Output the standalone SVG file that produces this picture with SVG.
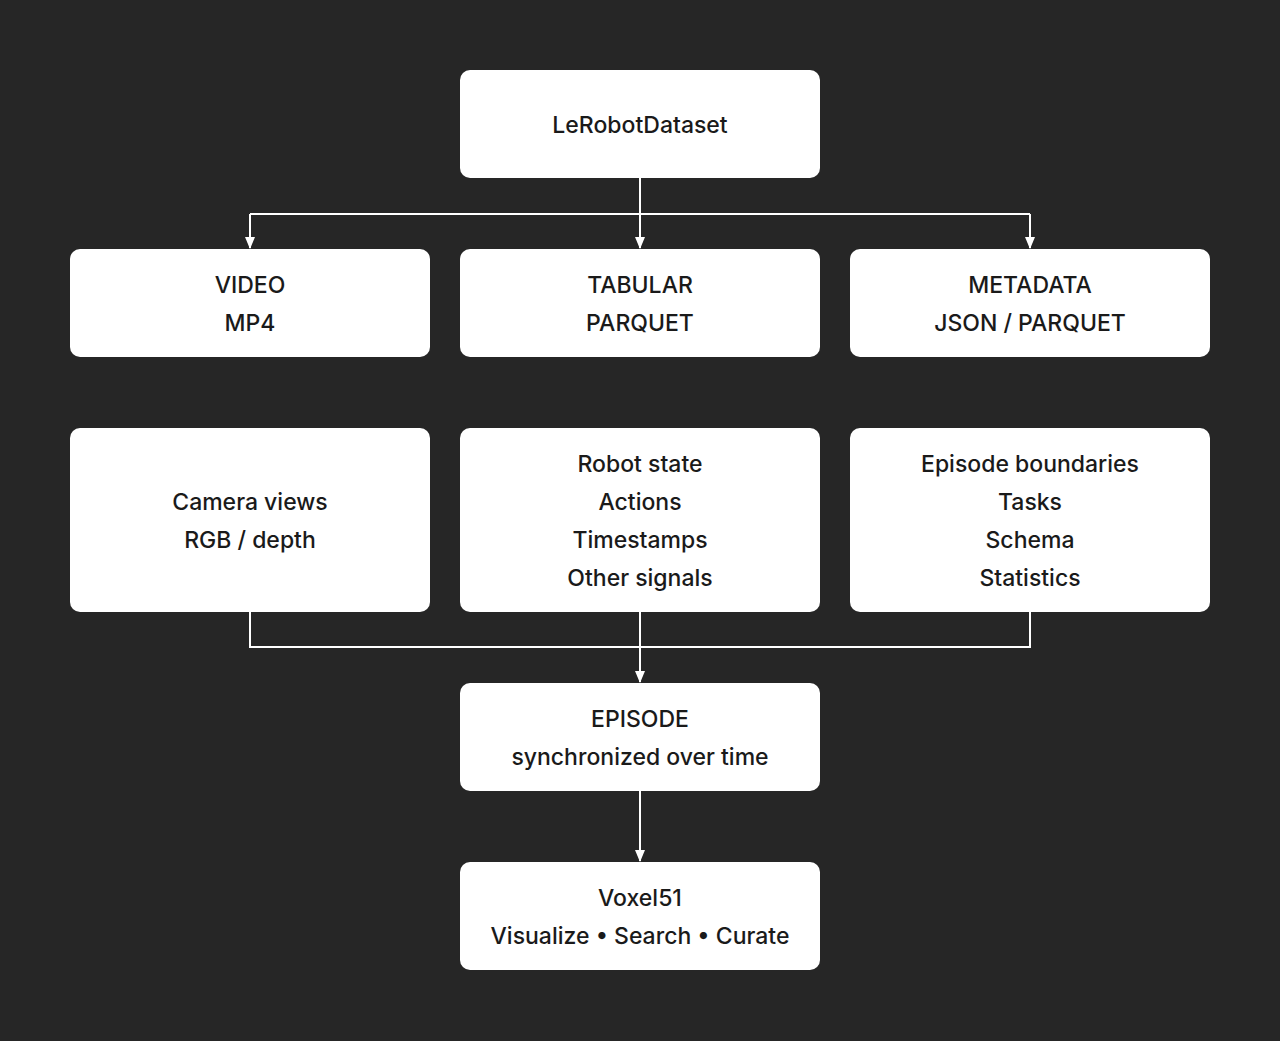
<svg xmlns="http://www.w3.org/2000/svg" width="1280" height="1041" viewBox="0 0 1280 1041">
<defs>
<style>
.b{fill:#fff;rx:10;ry:10}
text{font-family:Inter,"Liberation Sans",sans-serif;font-size:23px;font-weight:500;fill:#1a1a1a;text-anchor:middle}
.c{stroke:#fff;stroke-width:2;fill:none}
</style>
<marker id="a" markerWidth="12" markerHeight="10" refX="11" refY="5" orient="auto" markerUnits="userSpaceOnUse"><path d="M0,0 L12,5 L0,10 z" fill="#fff"/></marker>
</defs>
<rect width="1280" height="1041" fill="#262626"/>
<g id="connectors">
<path class="c" d="M640,178 V214 M250,214 H1030"/>
<path class="c" d="M250,214 V248" marker-end="url(#a)"/>
<path class="c" d="M640,214 V248" marker-end="url(#a)"/>
<path class="c" d="M1030,214 V248" marker-end="url(#a)"/>
<path class="c" d="M250,612 V647 H1030 V612 M640,612 V647"/>
<path class="c" d="M640,647 V682" marker-end="url(#a)"/>
<path class="c" d="M640,791 V861" marker-end="url(#a)"/>
</g>
<g id="root"><rect class="b" x="460" y="70" width="360" height="108"/><text x="640" y="133">LeRobotDataset</text></g>
<g id="video"><rect class="b" x="70" y="249" width="360" height="108"/><text x="250" y="293">VIDEO</text><text x="250" y="331">MP4</text></g>
<g id="tabular"><rect class="b" x="460" y="249" width="360" height="108"/><text x="640" y="293">TABULAR</text><text x="640" y="331">PARQUET</text></g>
<g id="metadata"><rect class="b" x="850" y="249" width="360" height="108"/><text x="1030" y="293">METADATA</text><text x="1030" y="331">JSON / PARQUET</text></g>
<g id="camera"><rect class="b" x="70" y="428" width="360" height="184"/><text x="250" y="510">Camera views</text><text x="250" y="548">RGB / depth</text></g>
<g id="signals"><rect class="b" x="460" y="428" width="360" height="184"/><text x="640" y="472">Robot state</text><text x="640" y="510">Actions</text><text x="640" y="548">Timestamps</text><text x="640" y="586">Other signals</text></g>
<g id="meta-details"><rect class="b" x="850" y="428" width="360" height="184"/><text x="1030" y="472">Episode boundaries</text><text x="1030" y="510">Tasks</text><text x="1030" y="548">Schema</text><text x="1030" y="586">Statistics</text></g>
<g id="episode"><rect class="b" x="460" y="683" width="360" height="108"/><text x="640" y="727">EPISODE</text><text x="640" y="765">synchronized over time</text></g>
<g id="voxel"><rect class="b" x="460" y="862" width="360" height="108"/><text x="640" y="906">Voxel51</text><text x="640" y="944">Visualize • Search • Curate</text></g>
</svg>
